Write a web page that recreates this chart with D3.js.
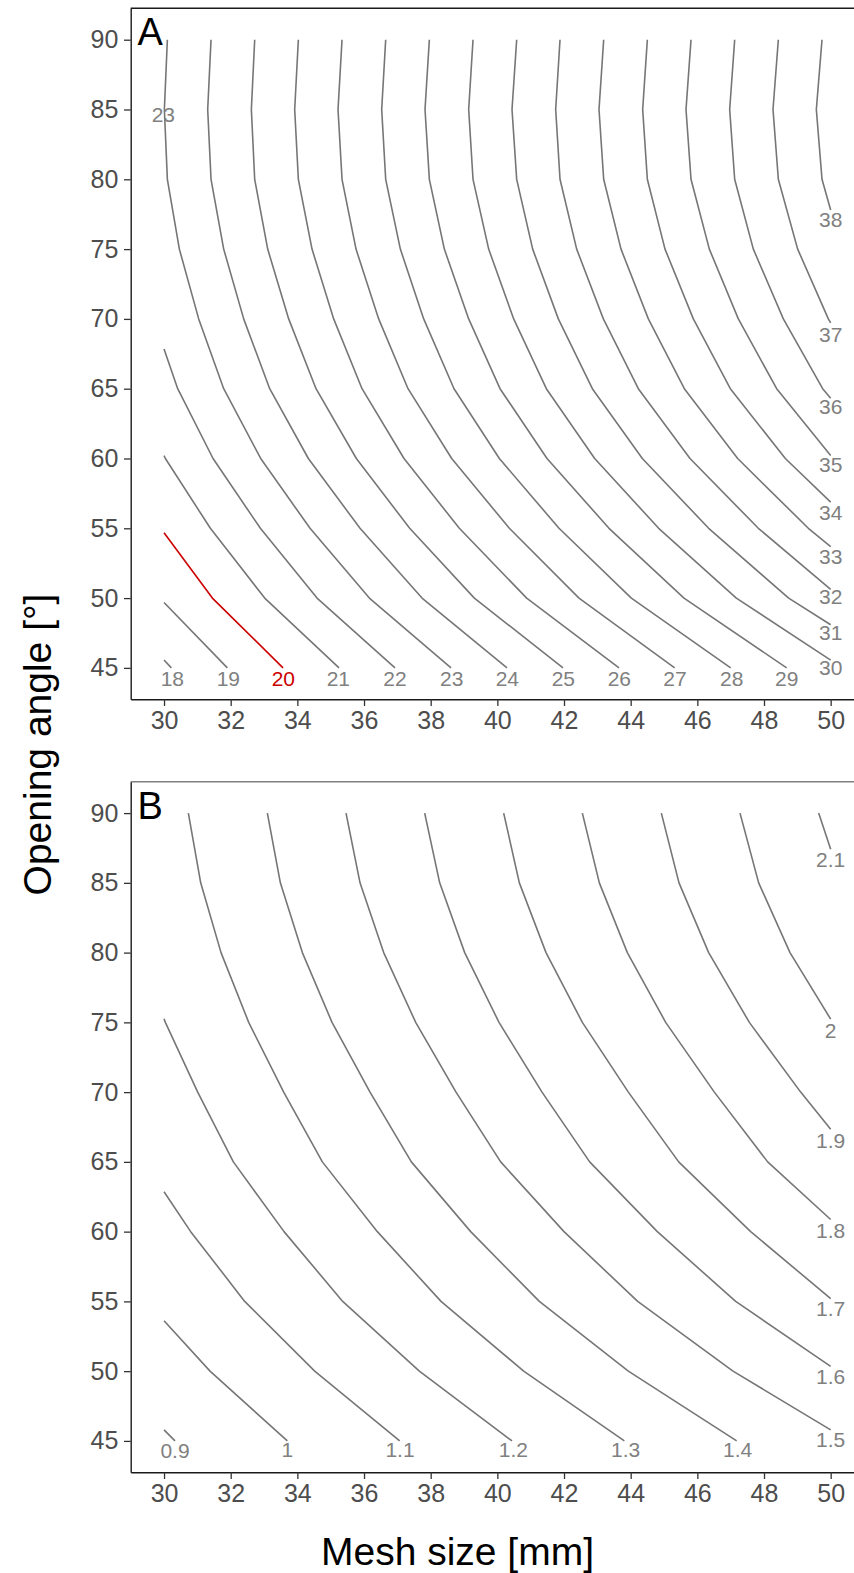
<!DOCTYPE html>
<html>
<head>
<meta charset="utf-8">
<script src="https://d3js.org/d3.v7.min.js"></script>
<style>
  body { margin: 0; background: #fff; }
  svg text { font-family: "Liberation Sans", Arial, sans-serif; }
</style>
</head>
<body>
<svg width="854" height="1573"></svg>
<script>
// ticks
const meshTicks = [30, 32, 34, 36, 38, 40, 42, 44, 46, 48, 50];
const angleTicks = [45, 50, 55, 60, 65, 70, 75, 80, 85, 90];

// panel A: contour lines as [mesh size, opening angle] points
const levelsA = [18, 19, 20, 21, 22, 23, 24, 25, 26, 27, 28, 29, 30, 31, 32, 33, 34, 35, 36, 37, 38];
const pathsA = [
  [[30.22,45],[30,45.57]],
  [[31.90,45],[30,49.68]],
  [[33.57,45],[31.45,50],[30,54.68]],
  [[35.25,45],[33.02,50],[31.39,55],[30.04,60],[30,60.2]],
  [[36.93,45],[34.59,50],[32.89,55],[31.47,60],[30.41,65],[30,67.85]],
  [[38.61,45],[36.16,50],[34.38,55],[32.90,60],[31.79,65],[31.04,70],[30.46,75],[30.10,80],[30.01,85],[30.10,90]],
  [[40.29,45],[37.74,50],[35.88,55],[34.33,60],[33.17,65],[32.39,70],[31.79,75],[31.41,80],[31.31,85],[31.41,90]],
  [[41.97,45],[39.31,50],[37.37,55],[35.77,60],[34.56,65],[33.74,70],[33.11,75],[32.72,80],[32.62,85],[32.72,90]],
  [[43.65,45],[40.88,50],[38.86,55],[37.20,60],[35.94,65],[35.09,70],[34.44,75],[34.03,80],[33.92,85],[34.03,90]],
  [[45.32,45],[42.45,50],[40.36,55],[38.63,60],[37.32,65],[36.44,70],[35.76,75],[35.34,80],[35.22,85],[35.34,90]],
  [[47.00,45],[44.02,50],[41.85,55],[40.06,60],[38.70,65],[37.79,70],[37.09,75],[36.65,80],[36.53,85],[36.65,90]],
  [[48.68,45],[45.60,50],[43.35,55],[41.49,60],[40.08,65],[39.14,70],[38.41,75],[37.96,80],[37.83,85],[37.96,90]],
  [[50,45.56],[47.17,50],[44.84,55],[42.92,60],[41.47,65],[40.49,70],[39.74,75],[39.27,80],[39.14,85],[39.27,90]],
  [[50,48.09],[48.74,50],[46.34,55],[44.35,60],[42.85,65],[41.83,70],[41.06,75],[40.58,80],[40.44,85],[40.58,90]],
  [[50,50.63],[47.83,55],[45.78,60],[44.23,65],[43.18,70],[42.38,75],[41.88,80],[41.75,85],[41.88,90]],
  [[50,53.69],[49.33,55],[47.21,60],[45.61,65],[44.53,70],[43.71,75],[43.19,80],[43.05,85],[43.19,90]],
  [[50,56.88],[48.64,60],[46.99,65],[45.88,70],[45.03,75],[44.50,80],[44.36,85],[44.50,90]],
  [[50,60.21],[48.38,65],[47.23,70],[46.36,75],[45.81,80],[45.66,85],[45.81,90]],
  [[50,64.31],[49.76,65],[48.58,70],[47.68,75],[47.12,80],[46.97,85],[47.12,90]],
  [[50,69.71],[49.93,70],[49.01,75],[48.43,80],[48.27,85],[48.43,90]],
  [[50,77.8],[49.74,80],[49.57,85],[49.74,90]]
];
// contour labels: [text, mesh, angle]
const labelsA = [
  ['18',30.25,44.28],['19',31.93,44.28],['20',33.58,44.28],['21',35.23,44.28],
  ['22',36.93,44.28],['23',38.63,44.28],['24',40.30,44.28],['25',41.98,44.28],
  ['26',43.66,44.28],['27',45.33,44.28],['28',47.03,44.28],['29',48.68,44.28],
  ['30',50,45.0],['31',50,47.51],['32',50,50.13],['33',50,53.0],['34',50,56.1],
  ['35',50,59.56],['36',50,63.74],['37',50,68.88],['38',50,77.11],['23',29.98,84.63]
];

// panel B
const levelsB = [0.9, 1.0, 1.1, 1.2, 1.3, 1.4, 1.5, 1.6, 1.7, 1.8, 1.9, 2.0, 2.1];
const pathsB = [
  [[30.33,45],[30,45.79]],
  [[33.70,45],[31.38,50],[30,53.61]],
  [[37.07,45],[34.52,50],[32.42,55],[30.80,60],[30,62.86]],
  [[40.44,45],[37.66,50],[35.36,55],[33.60,60],[32.08,65],[31.01,70],[30.04,75],[30,75.26]],
  [[43.81,45],[40.79,50],[38.31,55],[36.40,60],[34.75,65],[33.59,70],[32.54,75],[31.71,80],[31.10,85],[30.73,90]],
  [[47.18,45],[43.93,50],[41.26,55],[39.20,60],[37.42,65],[36.18,70],[35.04,75],[34.15,80],[33.49,85],[33.10,90]],
  [[50,45.79],[47.07,50],[44.21,55],[42.00,60],[40.10,65],[38.76,70],[37.55,75],[36.59,80],[35.88,85],[35.46,90]],
  [[50,50.34],[47.15,55],[44.80,60],[42.77,65],[41.34,70],[40.05,75],[39.02,80],[38.27,85],[37.82,90]],
  [[50,55.2],[47.60,60],[45.44,65],[43.93,70],[42.55,75],[41.46,80],[40.66,85],[40.19,90]],
  [[50,60.87],[48.11,65],[46.51,70],[45.05,75],[43.90,80],[43.06,85],[42.55,90]],
  [[50,67.34],[49.10,70],[47.56,75],[46.34,80],[45.45,85],[44.92,90]],
  [[50,75.23],[48.78,80],[47.84,85],[47.28,90]],
  [[50,87.4],[49.64,90]]
];
const labelsB = [
  ['0.9',30.33,44.31],['1',33.70,44.36],['1.1',37.08,44.36],['1.2',40.48,44.36],
  ['1.3',43.85,44.36],['1.4',47.21,44.36],['1.5',50,45.07],['1.6',50,49.61],
  ['1.7',50,54.51],['1.8',50,60.11],['1.9',50,66.56],['2',50,74.44],['2.1',50,86.67]
];

const highlightLevel = 20;

const svg = d3.select('svg');
const left = 130.7, right = 864;

const x = d3.scaleLinear().domain([29, 51]).range([left, right]);

function drawPanel(top, bottom, letter, levels, paths, labels, borderColor) {
  const y = d3.scaleLinear().domain([42.75, 92.25]).range([bottom, top]);
  const g = svg.append('g');

  g.append('line')
    .attr('x1', left).attr('x2', right)
    .attr('y1', top).attr('y2', top)
    .attr('stroke', borderColor).attr('stroke-width', 1.4);

  const line = d3.line().x(d => x(d[0])).y(d => y(d[1]));

  g.selectAll('path.contour').data(paths)
    .enter().append('path')
      .attr('class', 'contour')
      .attr('d', line)
      .attr('fill', 'none')
      .attr('stroke-linejoin', 'round')
      .attr('stroke', (d, i) => levels[i] === highlightLevel ? '#cc0000' : '#767676')
      .attr('stroke-width', 1.6);

  g.selectAll('text.clab').data(labels)
    .enter().append('text')
      .attr('class', 'clab')
      .attr('x', d => x(d[1]))
      .attr('y', d => y(d[2]))
      .attr('dy', '0.36em')
      .attr('text-anchor', 'middle')
      .attr('font-size', 21)
      .attr('fill', d => +d[0] === highlightLevel ? '#cc0000' : '#808080')
      .text(d => d[0]);

  const xAxis = d3.axisBottom(x).tickValues(meshTicks)
    .tickSize(6.7).tickSizeOuter(0).tickPadding(5.7);
  const yAxis = d3.axisLeft(y).tickValues(angleTicks)
    .tickSize(6.7).tickSizeOuter(0).tickPadding(5.7);

  const xg = g.append('g').attr('transform', `translate(0,${bottom})`).call(xAxis);
  const yg = g.append('g').attr('transform', `translate(${left},0)`).call(yAxis);

  [xg, yg].forEach(a => {
    a.attr('font-family', null).attr('font-size', null);
    a.select('.domain').attr('stroke', '#1a1a1a').attr('stroke-width', 1.4);
    a.selectAll('.tick line').attr('stroke', '#333').attr('stroke-width', 1.3);
    a.selectAll('.tick text').attr('fill', '#4d4d4d').attr('font-size', 25);
  });

  g.append('text')
    .attr('x', 137.5).attr('y', top + 37)
    .attr('font-size', 38)
    .attr('fill', '#000')
    .text(letter);
}

drawPanel(8.3, 699.3, 'A', levelsA, pathsA, labelsA, '#1a1a1a');
drawPanel(781.7, 1472.3, 'B', levelsB, pathsB, labelsB, '#808080');

svg.append('text')
  .attr('x', 457.5).attr('y', 1565)
  .attr('text-anchor', 'middle')
  .attr('font-size', 39)
  .text('Mesh size [mm]');

svg.append('text')
  .attr('transform', 'translate(51,744.5) rotate(-90)')
  .attr('text-anchor', 'middle')
  .attr('font-size', 39)
  .text('Opening angle [°]');
</script>
</body>
</html>
